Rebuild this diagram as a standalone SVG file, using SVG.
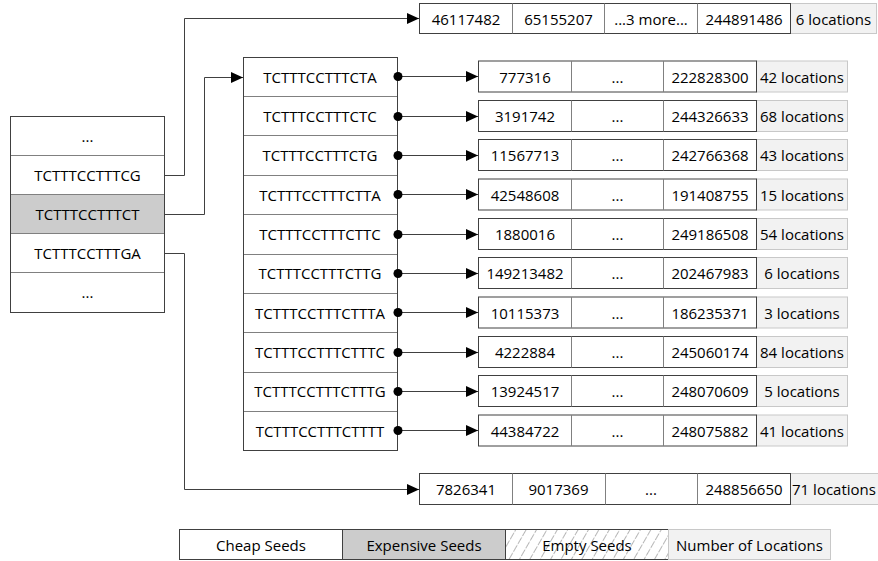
<svg xmlns="http://www.w3.org/2000/svg" width="878" height="561" viewBox="0 0 878 561">
<style>
text{font-family:"Open Sans","Liberation Sans",sans-serif;font-size:15px;fill:#000;text-anchor:middle;dominant-baseline:central}
.box{fill:#fff;stroke:#404040;stroke-width:1}
.exp{fill:#cccccc;stroke:none}
.div{stroke:#808080;stroke-width:1;fill:none}
.loc{fill:#f2f2f2;stroke:#c8c8c8;stroke-width:1}
.con{fill:none;stroke:#404040;stroke-width:1}
.dot{fill:#000}
</style>
<defs>
<marker id="arr" markerWidth="13" markerHeight="12" refX="12" refY="6" orient="auto" markerUnits="userSpaceOnUse"><path d="M0,0.5 L12,6 L0,11.5 z" fill="#000"/></marker>
<pattern id="hatch" width="9" height="9" patternUnits="userSpaceOnUse" patternTransform="rotate(30)"><line x1="0" y1="0" x2="0" y2="9" stroke="#6e6e6e" stroke-width="1" stroke-dasharray="5,1.5"/></pattern>
</defs>

<g id="connectors">
<path class="con" d="M165,175.5 H184.5 V18.5 H419" marker-end="url(#arr)"/>
<path class="con" d="M165,214.5 H204.5 V77.5 H243" marker-end="url(#arr)"/>
<path class="con" d="M165,253.5 H184.5 V489.5 H419" marker-end="url(#arr)"/>
<path class="con" d="M398,76.5 H478" marker-end="url(#arr)"/>
<path class="con" d="M398,116.5 H478" marker-end="url(#arr)"/>
<path class="con" d="M398,155.5 H478" marker-end="url(#arr)"/>
<path class="con" d="M398,194.5 H478" marker-end="url(#arr)"/>
<path class="con" d="M398,234.5 H478" marker-end="url(#arr)"/>
<path class="con" d="M398,273.5 H478" marker-end="url(#arr)"/>
<path class="con" d="M398,312.5 H478" marker-end="url(#arr)"/>
<path class="con" d="M398,352.5 H478" marker-end="url(#arr)"/>
<path class="con" d="M398,391.5 H478" marker-end="url(#arr)"/>
<path class="con" d="M398,430.5 H478" marker-end="url(#arr)"/>
</g>

<g id="left-table">
<rect class="box" x="10.5" y="116.5" width="154" height="196"/>
<rect class="exp" x="11" y="194.5" width="153" height="39"/>
<path class="div" d="M10.5,155.5 H164.5 M10.5,194.5 H164.5 M10.5,233.5 H164.5 M10.5,272.5 H164.5"/>
<rect x="10.5" y="116.5" width="154" height="196" fill="none" stroke="#404040"/>
<text x="87.5" y="136">...</text>
<text x="87.5" y="175">TCTTTCCTTTCG</text>
<text x="87.5" y="214">TCTTTCCTTTCT</text>
<text x="87.5" y="253">TCTTTCCTTTGA</text>
<text x="87.5" y="292">...</text>
</g>

<g id="mid-table">
<rect class="box" x="243.5" y="57.5" width="154" height="393"/>
<path class="div" d="M243.5,96.5 H397.5 M243.5,135.5 H397.5 M243.5,175.5 H397.5 M243.5,214.5 H397.5 M243.5,254.5 H397.5 M243.5,293.5 H397.5 M243.5,332.5 H397.5 M243.5,372.5 H397.5 M243.5,411.5 H397.5"/>
<rect x="243.5" y="57.5" width="154" height="393" fill="none" stroke="#404040"/>
<text x="320" y="77">TCTTTCCTTTCTA</text>
<text x="320" y="116">TCTTTCCTTTCTC</text>
<text x="320" y="155">TCTTTCCTTTCTG</text>
<text x="320" y="194.5">TCTTTCCTTTCTTA</text>
<text x="320" y="234">TCTTTCCTTTCTTC</text>
<text x="320" y="273">TCTTTCCTTTCTTG</text>
<text x="320" y="312.5">TCTTTCCTTTCTTTA</text>
<text x="320" y="352">TCTTTCCTTTCTTTC</text>
<text x="320" y="391">TCTTTCCTTTCTTTG</text>
<text x="320" y="430.5">TCTTTCCTTTCTTTT</text>
<circle class="dot" cx="398" cy="76.5" r="4.5"/>
<circle class="dot" cx="398" cy="116.5" r="4.5"/>
<circle class="dot" cx="398" cy="155.5" r="4.5"/>
<circle class="dot" cx="398" cy="194.5" r="4.5"/>
<circle class="dot" cx="398" cy="234.5" r="4.5"/>
<circle class="dot" cx="398" cy="273.5" r="4.5"/>
<circle class="dot" cx="398" cy="312.5" r="4.5"/>
<circle class="dot" cx="398" cy="352.5" r="4.5"/>
<circle class="dot" cx="398" cy="391.5" r="4.5"/>
<circle class="dot" cx="398" cy="430.5" r="4.5"/>
</g>

<g id="top-list">
<rect class="loc" x="790.5" y="3.5" width="86" height="30"/>
<rect class="box" x="419.5" y="3.5" width="371" height="30"/>
<path class="div" d="M512.5,3.5 V33.5 M604.5,3.5 V33.5 M697.5,3.5 V33.5"/>
<text x="466" y="18.5">46117482</text>
<text x="558.5" y="18.5">65155207</text>
<text x="651" y="18.5">...3 more...</text>
<text x="744" y="18.5">244891486</text>
<text x="833.5" y="18.5">6 locations</text>
</g>

<g id="list-1">
<rect class="loc" x="756.5" y="61" width="91" height="31"/>
<rect class="box" x="478.5" y="61" width="278" height="31"/>
<path class="div" d="M571.5,61 V92 M663.5,61 V92"/>
<text x="525" y="76.5">777316</text><text x="617.5" y="76.5">...</text><text x="710" y="76.5">222828300</text><text x="802" y="76.5">42 locations</text>
</g>
<g id="list-2">
<rect class="loc" x="756.5" y="100.5" width="91" height="31"/>
<rect class="box" x="478.5" y="100.5" width="278" height="31"/>
<path class="div" d="M571.5,100.5 V131.5 M663.5,100.5 V131.5"/>
<text x="525" y="116">3191742</text><text x="617.5" y="116">...</text><text x="710" y="116">244326633</text><text x="802" y="116">68 locations</text>
</g>
<g id="list-3">
<rect class="loc" x="756.5" y="139.5" width="91" height="31"/>
<rect class="box" x="478.5" y="139.5" width="278" height="31"/>
<path class="div" d="M571.5,139.5 V170.5 M663.5,139.5 V170.5"/>
<text x="525" y="155">11567713</text><text x="617.5" y="155">...</text><text x="710" y="155">242766368</text><text x="802" y="155">43 locations</text>
</g>
<g id="list-4">
<rect class="loc" x="756.5" y="179" width="91" height="31"/>
<rect class="box" x="478.5" y="179" width="278" height="31"/>
<path class="div" d="M571.5,179 V210 M663.5,179 V210"/>
<text x="525" y="194.5">42548608</text><text x="617.5" y="194.5">...</text><text x="710" y="194.5">191408755</text><text x="802" y="194.5">15 locations</text>
</g>
<g id="list-5">
<rect class="loc" x="756.5" y="218.5" width="91" height="31"/>
<rect class="box" x="478.5" y="218.5" width="278" height="31"/>
<path class="div" d="M571.5,218.5 V249.5 M663.5,218.5 V249.5"/>
<text x="525" y="234">1880016</text><text x="617.5" y="234">...</text><text x="710" y="234">249186508</text><text x="802" y="234">54 locations</text>
</g>
<g id="list-6">
<rect class="loc" x="756.5" y="257.5" width="91" height="31"/>
<rect class="box" x="478.5" y="257.5" width="278" height="31"/>
<path class="div" d="M571.5,257.5 V288.5 M663.5,257.5 V288.5"/>
<text x="525" y="273">149213482</text><text x="617.5" y="273">...</text><text x="710" y="273">202467983</text><text x="802" y="273">6 locations</text>
</g>
<g id="list-7">
<rect class="loc" x="756.5" y="297" width="91" height="31"/>
<rect class="box" x="478.5" y="297" width="278" height="31"/>
<path class="div" d="M571.5,297 V328 M663.5,297 V328"/>
<text x="525" y="312.5">10115373</text><text x="617.5" y="312.5">...</text><text x="710" y="312.5">186235371</text><text x="802" y="312.5">3 locations</text>
</g>
<g id="list-8">
<rect class="loc" x="756.5" y="336.5" width="91" height="31"/>
<rect class="box" x="478.5" y="336.5" width="278" height="31"/>
<path class="div" d="M571.5,336.5 V367.5 M663.5,336.5 V367.5"/>
<text x="525" y="352">4222884</text><text x="617.5" y="352">...</text><text x="710" y="352">245060174</text><text x="802" y="352">84 locations</text>
</g>
<g id="list-9">
<rect class="loc" x="756.5" y="375.5" width="91" height="31"/>
<rect class="box" x="478.5" y="375.5" width="278" height="31"/>
<path class="div" d="M571.5,375.5 V406.5 M663.5,375.5 V406.5"/>
<text x="525" y="391">13924517</text><text x="617.5" y="391">...</text><text x="710" y="391">248070609</text><text x="802" y="391">5 locations</text>
</g>
<g id="list-10">
<rect class="loc" x="756.5" y="415" width="91" height="31"/>
<rect class="box" x="478.5" y="415" width="278" height="31"/>
<path class="div" d="M571.5,415 V446 M663.5,415 V446"/>
<text x="525" y="430.5">44384722</text><text x="617.5" y="430.5">...</text><text x="710" y="430.5">248075882</text><text x="802" y="430.5">41 locations</text>
</g>

<g id="bottom-list">
<rect class="loc" x="790.5" y="473.5" width="88" height="31"/>
<rect class="box" x="419.5" y="473.5" width="371" height="31"/>
<path class="div" d="M512.5,473.5 V504.5 M605.5,473.5 V504.5 M697.5,473.5 V504.5"/>
<text x="466" y="489">7826341</text>
<text x="558.5" y="489">9017369</text>
<text x="651" y="489">...</text>
<text x="744" y="489">248856650</text>
<text x="834" y="489">71 locations</text>
</g>

<g id="legend">
<rect class="box" x="179.5" y="529.5" width="163" height="30"/>
<rect x="342.5" y="529.5" width="163" height="30" fill="#cccccc" stroke="#404040"/>
<rect x="505.5" y="529.5" width="163" height="30" fill="url(#hatch)" stroke="#404040"/>
<rect class="loc" x="668.5" y="529.5" width="162" height="30"/>
<text x="261" y="544.5">Cheap Seeds</text>
<text x="424" y="544.5">Expensive Seeds</text>
<text x="587" y="544.5">Empty Seeds</text>
<text x="749.5" y="544.5">Number of Locations</text>
</g>
</svg>
